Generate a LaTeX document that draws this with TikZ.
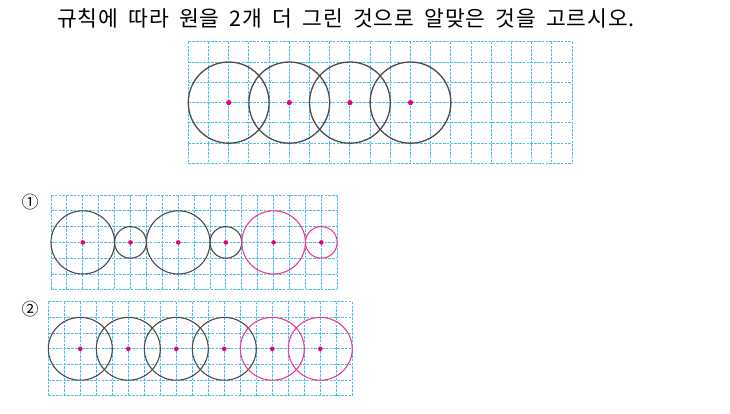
\documentclass[tikz,border=0pt]{standalone}
\usepackage{fontspec}
\newfontfamily\krfont{Noto Sans CJK KR}
\newfontfamily\krtitle[LetterSpace=4,WordSpace=1.8]{Noto Sans CJK KR}
\definecolor{gridblue}{RGB}{70,190,238}
\definecolor{circgray}{RGB}{75,75,75}
\definecolor{circpink}{RGB}{232,60,155}
\definecolor{dotpink}{RGB}{230,0,126}
\tikzset{
  gridline/.style={draw=gridblue, line width=0.95pt, dash pattern=on 2.6pt off 1.2pt},
  graycirc/.style={draw=circgray, line width=1.1pt},
  pinkcirc/.style={draw=circpink, line width=1.1pt},
  centerdot/.style={fill=dotpink, draw=none},
  numlabel/.style={font=\krfont\fontsize{17}{17}\selectfont, inner sep=0pt},
}
\newcommand{\mygrid}[2]{%
  \foreach \i in {0,...,#1} {\draw[gridline] (\i,0) -- (\i,#2);}
  \foreach \j in {0,...,#2} {\draw[gridline] (0,\j) -- (#1,\j);}
}
\begin{document}
\begin{tikzpicture}[x=1pt,y=-1pt]
\useasboundingbox (0,0) rectangle (730,413);
% title
\node[anchor=base west, inner sep=0pt, font=\krtitle\fontsize{21.5}{21.5}\selectfont] (title) at (57,26.5)
  {규칙에 따라 원을 2개 더 그린 것으로 알맞은 것을 고르시오.};
% top grid
\begin{scope}[shift={(188.3,41.7)}, x=20.2pt, y=-20.3pt]
  \mygrid{19}{6}
  \foreach \c in {2,5,8,11} {
    \draw[graycirc, line width=1.3pt] (\c,3) circle[radius=2];
  }
  \foreach \c in {2,5,8,11} {
    \fill[centerdot] (\c,3) circle[radius=2.6pt];
  }
\end{scope}
% option 1
\node[numlabel] (n1) at (30,201.7) {①};
\begin{scope}[shift={(51,195)}, x=15.9pt, y=-15.8pt]
  \mygrid{18}{6}
  \draw[graycirc] (2,3) circle[radius=2];
  \draw[graycirc] (5,3) circle[radius=1];
  \draw[graycirc] (8,3) circle[radius=2];
  \draw[graycirc] (11,3) circle[radius=1];
  \draw[pinkcirc] (14,3) circle[radius=2];
  \draw[pinkcirc] (17,3) circle[radius=1];
  \foreach \c in {2,5,8,11,14,17} {
    \fill[centerdot] (\c,3) circle[radius=2.3pt];
  }
\end{scope}
% option 2
\node[numlabel] (n2) at (30,309) {②};
\begin{scope}[shift={(48.3,301.7)}, x=16.0pt, y=-15.7pt]
  \mygrid{19}{6}
  \foreach \c in {2,5,8,11} {
    \draw[graycirc] (\c,3) circle[radius=2];
  }
  \foreach \c in {14,17} {
    \draw[pinkcirc] (\c,3) circle[radius=2];
  }
  \foreach \c in {2,5,8,11,14,17} {
    \fill[centerdot] (\c,3) circle[radius=2.3pt];
  }
\end{scope}
\end{tikzpicture}
\end{document}
